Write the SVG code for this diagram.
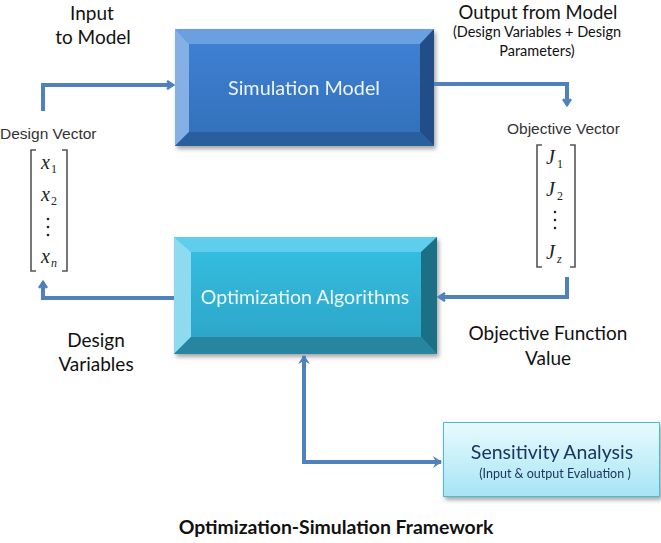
<svg xmlns="http://www.w3.org/2000/svg" width="661" height="543" viewBox="0 0 661 543">
<defs>
<linearGradient id="simFace" x1="0" y1="0" x2="0" y2="1"><stop offset="0" stop-color="#3f82d6"/><stop offset="1" stop-color="#336fb8"/></linearGradient>
<linearGradient id="optFace" x1="0" y1="0" x2="0" y2="1"><stop offset="0" stop-color="#35c0e4"/><stop offset="1" stop-color="#2ba2c4"/></linearGradient>
<linearGradient id="senFace" x1="0" y1="0" x2="0" y2="1"><stop offset="0" stop-color="#e8fbfe"/><stop offset="1" stop-color="#a6e4f4"/></linearGradient>
<filter id="sh" x="-10%" y="-10%" width="130%" height="130%"><feDropShadow dx="2" dy="3" stdDeviation="2" flood-color="#000" flood-opacity="0.35"/></filter>
<marker id="ah" markerWidth="10" markerHeight="10" refX="7" refY="5" orient="auto" markerUnits="userSpaceOnUse" viewBox="0 0 10 10"><path d="M1,1 L7,5 L1,9" fill="none" stroke="#4f81bd" stroke-width="2.6" stroke-linejoin="miter"/></marker>
<marker id="tri" markerWidth="14" markerHeight="14" refX="10" refY="7" orient="auto-start-reverse" markerUnits="userSpaceOnUse" viewBox="0 0 14 14"><path d="M2,1 L11,7 L2,13 L5,7 Z" fill="#4f81bd"/></marker>
</defs>
<style>
.lbl{font-family:Lato,"Open Sans",sans-serif;fill:#111;}
.arl{font-family:"Liberation Sans",Arial,sans-serif;fill:#333;}
.m{font-family:"Liberation Serif","Times New Roman",serif;font-style:italic;fill:#222;}
.sub{font-family:"Liberation Serif","Times New Roman",serif;fill:#222;}
.conn{fill:none;stroke:#4f81bd;stroke-width:4;}
.br{fill:none;stroke:#555;stroke-width:1.6;}
</style>
<rect width="661" height="543" fill="#fff"/>

<g id="sim-model" filter="url(#sh)">
<rect x="175" y="29" width="259" height="117" fill="url(#simFace)"/>
<polygon points="175,29 434,29 420,44 189,44" fill="#6aa0e0"/>
<polygon points="175,29 189,44 189,132 175,146" fill="#85b0e6"/>
<polygon points="434,29 434,146 420,132 420,44" fill="#244d86"/>
<polygon points="175,146 189,132 420,132 434,146" fill="#2c5e9e"/>
<text x="304" y="95" text-anchor="middle" font-family="Lato,'Open Sans',sans-serif" font-size="19.8" fill="#eef4fc">Simulation Model</text>
</g>

<g id="opt-algorithms" filter="url(#sh)">
<rect x="174" y="237" width="263" height="117" fill="url(#optFace)"/>
<polygon points="174,237 437,237 421,252 191,252" fill="#5fcdec"/>
<polygon points="174,237 191,252 191,337 174,354" fill="#8edbf0"/>
<polygon points="437,237 437,354 421,337 421,252" fill="#1e6f86"/>
<polygon points="174,354 191,337 421,337 437,354" fill="#26869f"/>
<text x="305" y="304" text-anchor="middle" font-family="Lato,'Open Sans',sans-serif" font-size="19.5" fill="#eefaff">Optimization Algorithms</text>
</g>

<g id="sensitivity" filter="url(#sh)">
<rect x="443.5" y="422.5" width="216" height="74" fill="url(#senFace)" stroke="#4bbcd8" stroke-width="1"/>
<text x="552" y="459" text-anchor="middle" font-family="Lato,'Open Sans',sans-serif" font-size="19.5" fill="#1f3560">Sensitivity Analysis</text>
<text x="555" y="478" text-anchor="middle" font-family="Lato,'Open Sans',sans-serif" font-size="12.5" fill="#1f3560">(Input &amp; output Evaluation )</text>
</g>

<g id="design-vector">
<text x="0" y="139" class="arl" font-size="15.5">Design Vector</text>
<path class="br" d="M36,150 H31 V271 H36"/>
<path class="br" d="M62,150 H67 V271 H62"/>
<text x="41" y="169" class="m" font-size="20">x</text><text x="51" y="173" class="sub" font-size="12">1</text>
<text x="41" y="201" class="m" font-size="20">x</text><text x="51" y="205" class="sub" font-size="12">2</text>
<circle cx="48" cy="219" r="1.3" fill="#222"/><circle cx="48" cy="227" r="1.3" fill="#222"/><circle cx="48" cy="235" r="1.3" fill="#222"/>
<text x="41" y="263" class="m" font-size="20">x</text><text x="51" y="267" class="m" font-size="12">n</text>
</g>

<g id="objective-vector">
<text x="507" y="134" class="arl" font-size="15.5">Objective Vector</text>
<path class="br" d="M542,145 H537 V267 H542"/>
<path class="br" d="M570,145 H575 V267 H570"/>
<text x="546" y="164" class="m" font-size="20">J</text><text x="557" y="168" class="sub" font-size="12">1</text>
<text x="546" y="196" class="m" font-size="20">J</text><text x="557" y="200" class="sub" font-size="12">2</text>
<circle cx="555" cy="212" r="1.3" fill="#222"/><circle cx="555" cy="220" r="1.3" fill="#222"/><circle cx="555" cy="228" r="1.3" fill="#222"/>
<text x="546" y="259" class="m" font-size="20">J</text><text x="557" y="263" class="m" font-size="12">z</text>
</g>

<g id="connectors">
<path class="conn" d="M43,111 V85 H173" marker-end="url(#ah)"/>
<path class="conn" d="M434,84 H567 V105" marker-end="url(#ah)"/>
<path class="conn" d="M567,277 V297 H439" marker-end="url(#ah)"/>
<path class="conn" d="M174,298 H43 V282" marker-end="url(#ah)"/>
<path class="conn" d="M304,356 V462 H441" marker-start="url(#tri)" marker-end="url(#tri)"/>
</g>

<g id="labels">
<text x="92" y="20" text-anchor="middle" class="lbl" font-size="19">Input</text>
<text x="93" y="44" text-anchor="middle" class="lbl" font-size="19">to Model</text>
<text x="538" y="19" text-anchor="middle" class="lbl" font-size="18.5">Output from Model</text>
<text x="537" y="37" text-anchor="middle" class="lbl" font-size="14.5">(Design Variables + Design</text>
<text x="537" y="56" text-anchor="middle" class="lbl" font-size="14.5">Parameters)</text>
<text x="96" y="347" text-anchor="middle" class="lbl" font-size="19">Design</text>
<text x="96" y="371" text-anchor="middle" class="lbl" font-size="19">Variables</text>
<text x="548" y="340" text-anchor="middle" class="lbl" font-size="19">Objective Function</text>
<text x="548" y="365" text-anchor="middle" class="lbl" font-size="19">Value</text>
<text x="336" y="534" text-anchor="middle" font-family="Lato,'Open Sans',sans-serif" font-weight="bold" font-size="19.4" fill="#111">Optimization-Simulation Framework</text>
</g>
</svg>
